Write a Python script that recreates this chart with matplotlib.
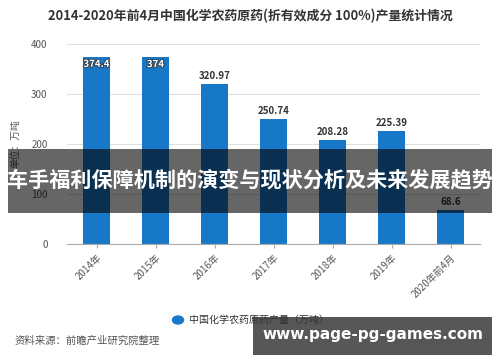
import matplotlib.pyplot as plt
import matplotlib.patheffects as pe
from matplotlib.patches import Rectangle

plt.rcParams['font.family'] = ['Noto Sans CJK SC', 'DejaVu Sans']

# Datos
years = ['2014年', '2015年', '2016年', '2017年', '2018年', '2019年', '2020年前4月']
output = [374.4, 374, 320.97, 250.74, 208.28, 225.39, 68.6]
labels = ['374.4', '374', '320.97', '250.74', '208.28', '225.39', '68.6']
yticks = [0, 100, 200, 300, 400]

BAR = '#1878c8'
GREY = '#555555'

fig = plt.figure(figsize=(5, 3.62), dpi=100)
ax = fig.add_axes([0.134, 0.326, 0.826, 0.552])

x = range(len(years))
ax.bar(x, output, width=0.47, color=BAR, zorder=2)
ax.set_xlim(-0.5, len(years) - 0.5)
ax.set_ylim(0, 400)
ax.set_yticks(yticks)
ax.set_yticklabels([str(t) for t in yticks], color=GREY, fontsize=7)
ax.set_xticks(list(x))
ax.set_xticklabels(years, rotation=45, ha='right', rotation_mode='anchor',
                   color=GREY, fontsize=7)
ax.tick_params(axis='y', length=0, pad=14)
ax.tick_params(axis='x', length=3, color='#aaaaaa', pad=3)
ax.grid(axis='y', color='#e0e0e0', linewidth=0.8, zorder=0)
for s in ['top', 'right', 'left']:
    ax.spines[s].set_visible(False)
ax.spines['bottom'].set_color('#aaaaaa')
ax.set_ylabel('单位：万吨', color=GREY, fontsize=7, labelpad=8)

# Etiquetas de las barras
for i, (v, lab) in enumerate(zip(output, labels)):
    if i < 2:
        t = ax.text(i, v - 4, lab, ha='center', va='top', fontsize=7,
                    color='white', fontweight='bold', zorder=3)
        t.set_path_effects([pe.withStroke(linewidth=1.5, foreground='#334455')])
    else:
        ax.text(i, v + 6, lab, ha='center', va='bottom', fontsize=7,
                color='#333333', fontweight='bold', zorder=3)

fig.text(0.5, 0.955, '2014-2020年前4月中国化学农药原药(折有效成分 100%)产量统计情况',
         ha='center', va='center', fontsize=9.3, fontweight='bold', color='#333333')

# Leyenda
fig.patches.append(plt.Circle((0.356, 0.116), 0.011, transform=fig.transFigure,
                              color=BAR, figure=fig))
fig.text(0.378, 0.116, '中国化学农药原药产量（万吨）', ha='left', va='center',
         fontsize=7.2, color='#333333')
fig.text(0.03, 0.058, '资料来源：前瞻产业研究院整理', ha='left', va='center',
         fontsize=7.5, color=GREY)
fig.text(0.985, 0.058, '@前瞻经济学人APP', ha='right', va='center',
         fontsize=7, color=GREY)

# Superposiciones
fig.patches.append(Rectangle((0.016, 0.412), 0.968, 0.176, transform=fig.transFigure,
                             facecolor='black', alpha=0.6, edgecolor='none', figure=fig))
fig.text(0.5, 0.503, '车手福利保障机制的演变与现状分析及未来发展趋势', ha='center',
         va='center', fontsize=15.2, fontweight='bold', color='white')
fig.patches.append(Rectangle((0.506, 0.02), 0.478, 0.103, transform=fig.transFigure,
                             facecolor='black', alpha=0.66, edgecolor='none', figure=fig))
fig.text(0.745, 0.076, 'www.page-pg-games.com', ha='center', va='center',
         fontsize=11, fontweight='bold', color='white', family='DejaVu Sans')

fig.savefig('out.png', dpi=100)
